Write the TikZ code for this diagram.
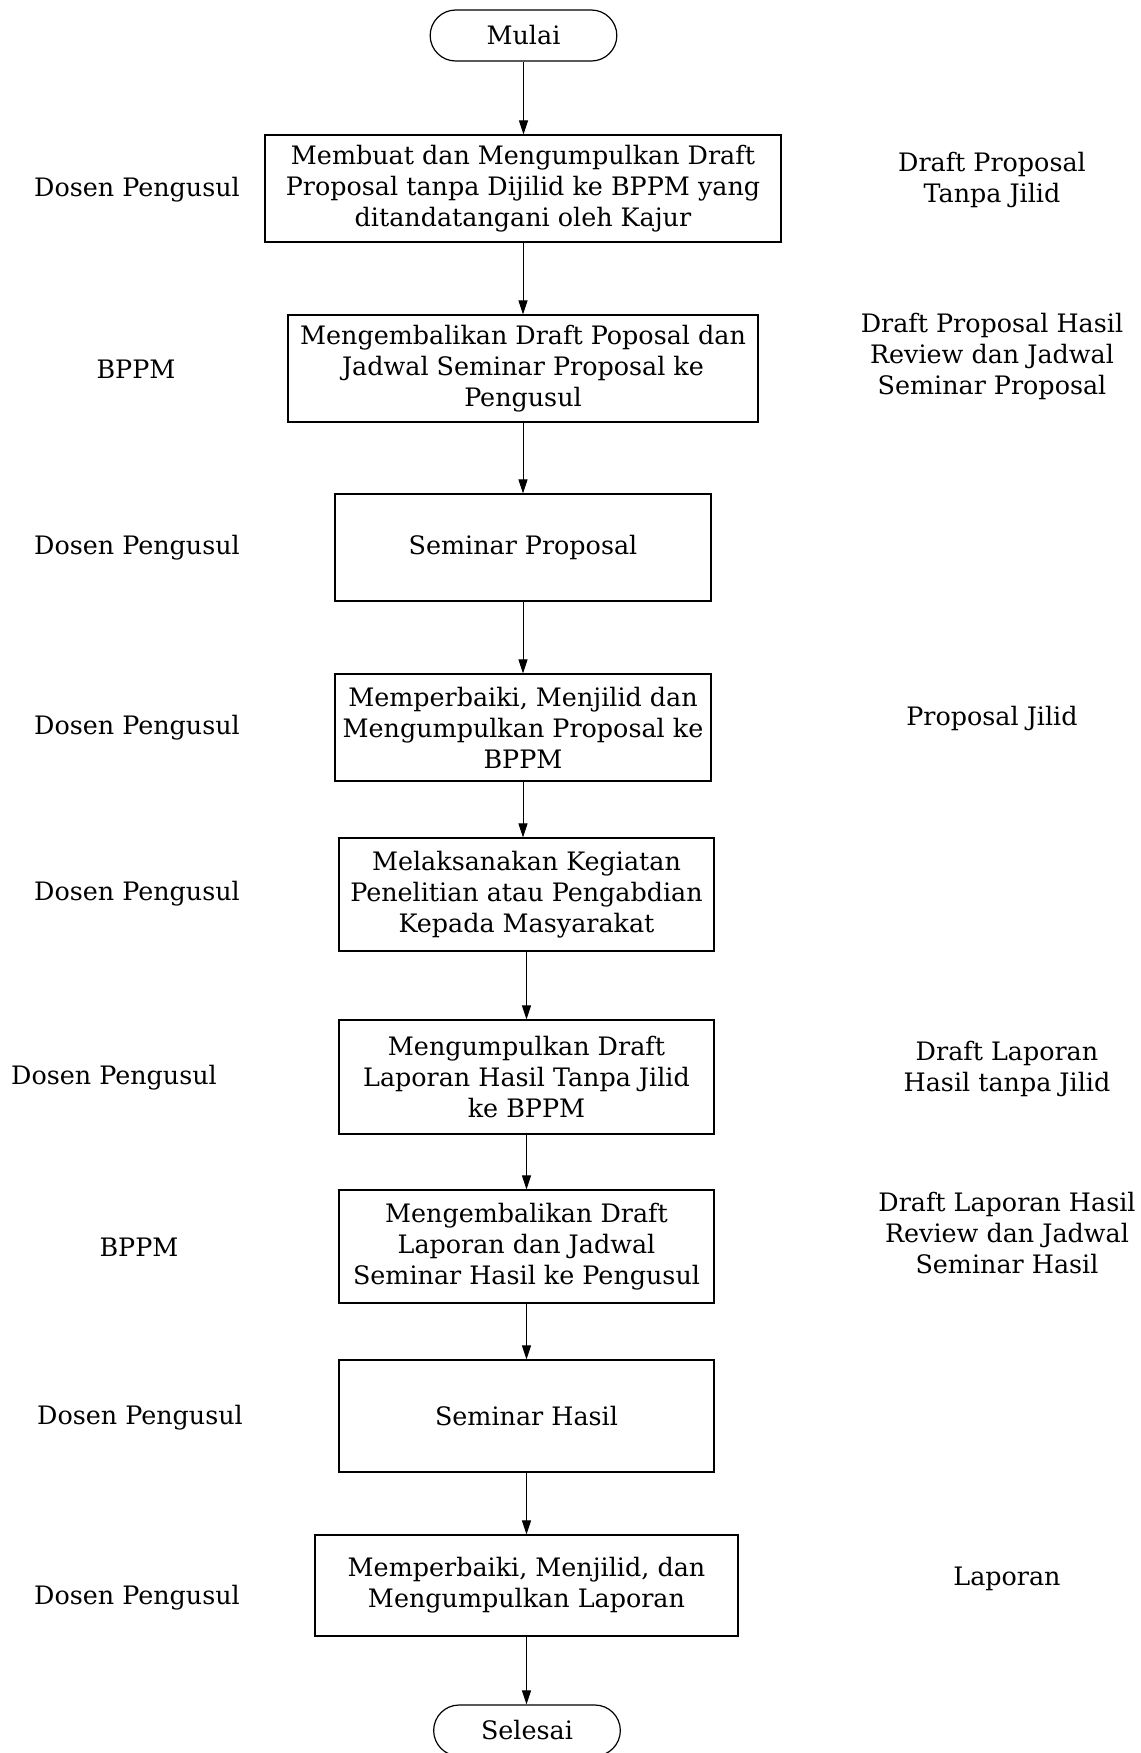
\documentclass[tikz,border=0pt]{standalone}
\usepackage{fontspec}
\setmainfont{DejaVu Serif}
\usetikzlibrary{arrows.meta,shapes.misc}
\begin{document}
\begin{tikzpicture}[x=0.5pt,y=-0.5pt,font=\fontsize{12.7}{15.5}\selectfont]
\tikzstyle{proses}=[draw,line width=0.6pt,align=center,inner sep=0pt]
\tikzstyle{terminal}=[draw,rounded rectangle,line width=0.6pt,minimum width=100pt,minimum height=25.5pt]
\tikzstyle{ket}=[align=center]
\tikzstyle{alur}=[-{Triangle[length=7pt,width=4.5pt]},line width=0.5pt]
\useasboundingbox (0,0) rectangle (1141,1753);
% alur utama
\node[terminal] (mulai) at (523.5,35.5) {Mulai};
\node[proses,minimum width=258pt,minimum height=53.5pt] (p1) at (523,188.5)
  {Membuat dan Mengumpulkan Draft\\Proposal tanpa Dijilid ke BPPM yang\\ditandatangani oleh Kajur};
\node[proses,minimum width=235pt,minimum height=53.5pt] (p2) at (523,368.5)
  {Mengembalikan Draft Poposal dan\\Jadwal Seminar Proposal ke\\Pengusul};
\node[proses,minimum width=188pt,minimum height=53.5pt] (p3) at (523,547.5)
  {Seminar Proposal};
\node[proses,minimum width=188pt,minimum height=53.5pt] (p4) at (523,727.5)
  {Memperbaiki, Menjilid dan\\Mengumpulkan Proposal ke\\BPPM};
\node[proses,minimum width=187.5pt,minimum height=56.5pt] (p5) at (526.5,894.5)
  {Melaksanakan Kegiatan\\Penelitian atau Pengabdian\\Kepada Masyarakat};
\node[proses,minimum width=187.5pt,minimum height=57pt] (p6) at (526.5,1077)
  {Mengumpulkan Draft\\Laporan Hasil Tanpa Jilid\\ke BPPM};
\node[proses,minimum width=187.5pt,minimum height=56.5pt] (p7) at (526.5,1246.5)
  {Mengembalikan Draft\\Laporan dan Jadwal\\Seminar Hasil ke Pengusul};
\node[proses,minimum width=187.5pt,minimum height=56pt] (p8) at (526.5,1416)
  {Seminar Hasil};
\node[proses,minimum width=211.5pt,minimum height=50.5pt] (p9) at (526.5,1585.5)
  {Memperbaiki, Menjilid, dan\\Mengumpulkan Laporan};
\node[terminal] (selesai) at (527,1730.5) {Selesai};
% pelaksana
\node[ket] (a1) at (137,190) {Dosen Pengusul};
\node[ket] (a2) at (136,369) {BPPM};
\node[ket] (a3) at (137,548) {Dosen Pengusul};
\node[ket] (a4) at (137,728) {Dosen Pengusul};
\node[ket] (a5) at (137,894) {Dosen Pengusul};
\node[ket] (a6) at (114,1078) {Dosen Pengusul};
\node[ket] (a7) at (139,1247) {BPPM};
\node[ket] (a8) at (140,1418) {Dosen Pengusul};
\node[ket] (a9) at (137,1598) {Dosen Pengusul};
% dokumen
\node[ket] (d1) at (992,180) {Draft Proposal\\Tanpa Jilid};
\node[ket] (d2) at (992,356) {Draft Proposal Hasil\\Review dan Jadwal\\Seminar Proposal};
\node[ket] (d4) at (992,718) {Proposal Jilid};
\node[ket] (d6) at (1007,1069) {Draft Laporan\\Hasil tanpa Jilid};
\node[ket] (d7) at (1007,1233) {Draft Laporan Hasil\\Review dan Jadwal\\Seminar Hasil};
\node[ket] (d9) at (1007,1579) {Laporan};
% panah
\foreach \a/\b in {mulai/p1,p1/p2,p2/p3,p3/p4,p4/p5,p5/p6,p6/p7,p7/p8,p8/p9,p9/selesai}
  \draw[alur] (\a.south) -- (\a.south |- \b.north);
\end{tikzpicture}
\end{document}
